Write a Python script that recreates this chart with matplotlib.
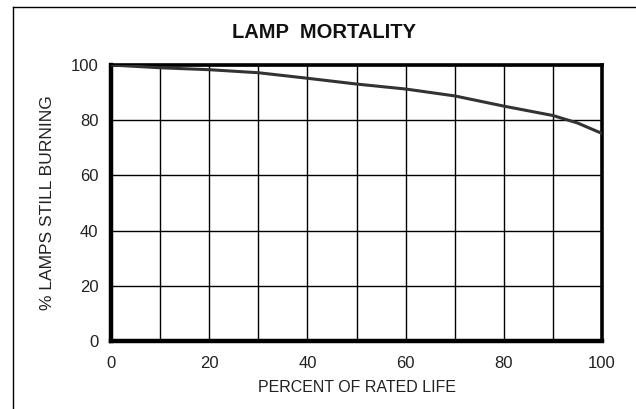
import matplotlib
matplotlib.use("Agg")
import matplotlib.pyplot as plt
from matplotlib.lines import Line2D

plt.rcParams['font.family'] = ['Liberation Sans', 'DejaVu Sans']

life_pct = [0, 10, 20, 30, 40, 50, 60, 70, 80, 90, 95, 100]
burning = [100, 99, 98.3, 97.2, 95.2, 93.1, 91.3, 88.8, 85.1, 81.7, 79.0, 75.2]

fig = plt.figure(figsize=(6.36, 4.09), dpi=100)
ax = fig.add_axes([111/636, 1 - 341/409, 491/636, 276/409])

ax.plot(life_pct, burning, color='#333333', lw=2.2, zorder=3)

ax.set_xlim(0, 100)
ax.set_ylim(0, 100)
ax.set_xticks(range(0, 101, 20))
ax.set_yticks(range(0, 101, 20))
ax.set_xticks(range(0, 101, 10), minor=True)
ax.grid(True, which='major', axis='y', color='black', lw=1.0)
ax.grid(True, which='both', axis='x', color='black', lw=1.0)
ax.tick_params(which='both', length=0, labelsize=12, colors='#222222')
ax.tick_params(axis='y', pad=9)
ax.tick_params(axis='x', pad=11)

for side, w in [('left', 3.2), ('bottom', 3.2), ('top', 2.6), ('right', 2.6)]:
    ax.spines[side].set_linewidth(w)
    ax.spines[side].set_color('black')

ax.set_xlabel('PERCENT OF RATED LIFE', fontsize=11.5, color='#222222', labelpad=6)
ax.set_ylabel('% LAMPS STILL BURNING', fontsize=12.6, color='#222222', labelpad=11)

fig.text(324/636, 1 - 33/409, 'LAMP  MORTALITY', fontsize=14.5, fontweight='bold',
         ha='center', va='center', color='#111111')

# outer frame (left and top edges only)
fig.add_artist(Line2D([13/636, 13/636], [0, 1 - 7/409], transform=fig.transFigure,
                      color='black', lw=1.0))
fig.add_artist(Line2D([13/636, 1], [1 - 7/409, 1 - 7/409], transform=fig.transFigure,
                      color='black', lw=1.0))

fig.savefig('out.png', dpi=100)
